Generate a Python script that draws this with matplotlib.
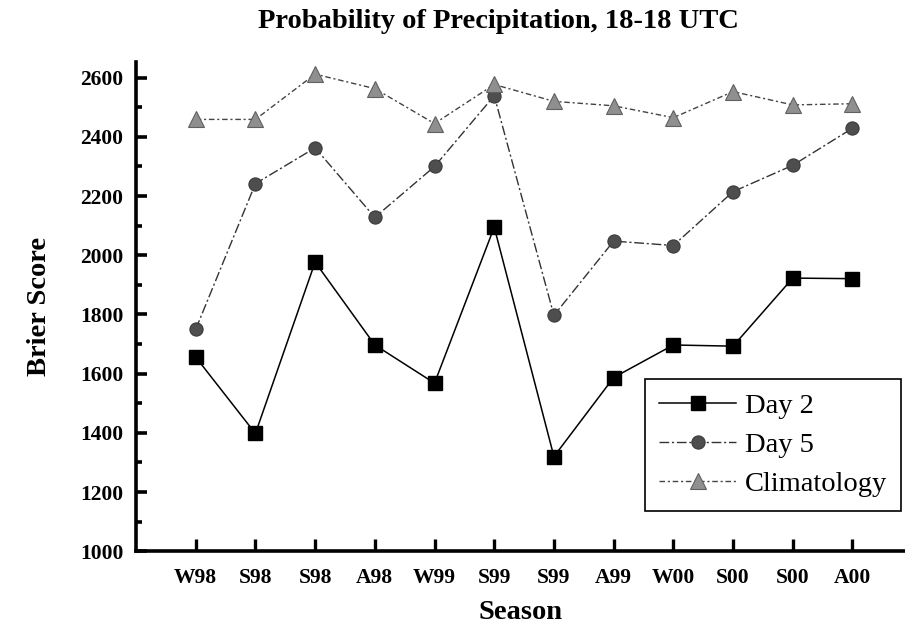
import matplotlib
matplotlib.use("Agg")
import matplotlib.pyplot as plt
from matplotlib.ticker import MultipleLocator

seasons = ["W98", "S98", "S98", "A98", "W99", "S99", "S99", "A99", "W00", "S00", "S00", "A00"]
day2 = [1656, 1398, 1977, 1697, 1568, 2095, 1320, 1587, 1697, 1693, 1923, 1921]
day5 = [1750, 2242, 2363, 2128, 2300, 2539, 1797, 2048, 2033, 2215, 2304, 2429]
clim = [2459, 2459, 2612, 2563, 2445, 2577, 2520, 2505, 2465, 2553, 2508, 2512]

plt.rcParams['font.family'] = ['Liberation Serif', 'DejaVu Serif']

fig = plt.figure(figsize=(9.05, 6.27), dpi=100)
ax = fig.add_axes([136/905, 1 - 551.3/627, 1 - 136/905, (551.3 - 61.7)/627])

x = list(range(1, len(seasons) + 1))

ax.plot(x, day2, color='black', lw=1.1, ls='-', marker='s', ms=9.5,
        mfc='black', mec='black', label='Day 2', zorder=3)
ax.plot(x, day5, color='#333333', lw=1.0, ls=(0, (7, 2, 1.5, 2)), marker='o', ms=9.5,
        mfc='#4e4e4e', mec='#3a3a3a', mew=0.8, label='Day 5', zorder=3)
ax.plot(x, clim, color='#444444', lw=1.0, ls=(0, (4, 2, 1.5, 2)), marker='^', ms=11,
        mfc='#8f8f8f', mec='#606060', mew=0.8, label='Climatology', zorder=3)

ax.set_xlim(0, 12.88)
ax.set_ylim(1000, 2654)
ax.set_xticks(x)
ax.set_xticklabels(seasons, fontsize=15.5, fontweight='bold')
ax.yaxis.set_major_locator(MultipleLocator(200))
ax.yaxis.set_minor_locator(MultipleLocator(100))
for lab in ax.get_yticklabels():
    lab.set_fontsize(15.5)
    lab.set_fontweight('bold')

for s in ['top', 'right']:
    ax.spines[s].set_visible(False)
for s in ['left', 'bottom']:
    ax.spines[s].set_linewidth(2.6)

ax.tick_params(axis='y', which='major', direction='in', length=8, width=2.6, pad=9)
ax.tick_params(axis='y', which='minor', direction='in', length=4, width=2.6)
ax.tick_params(axis='x', which='major', direction='in', length=9, width=2.4, pad=12)

ax.set_xlabel('Season', fontsize=20.5, fontweight='bold', labelpad=9)
ax.set_ylabel('Brier Score', fontsize=20.5, fontweight='bold', labelpad=20)
fig.text(498.5/905, 1 - 22/627, 'Probability of Precipitation, 18-18 UTC',
         ha='center', va='center', fontsize=20.5, fontweight='bold')

leg = ax.legend(loc='upper left', bbox_to_anchor=(645/905, 1 - 379/627),
                bbox_transform=fig.transFigure, fontsize=20.5, frameon=True,
                fancybox=False, edgecolor='black', framealpha=1,
                handlelength=2.7, handletextpad=0.3, labelspacing=0.46,
                borderpad=0.5, borderaxespad=0)
leg.get_frame().set_linewidth(1.2)

fig.savefig('out.png', dpi=100)
